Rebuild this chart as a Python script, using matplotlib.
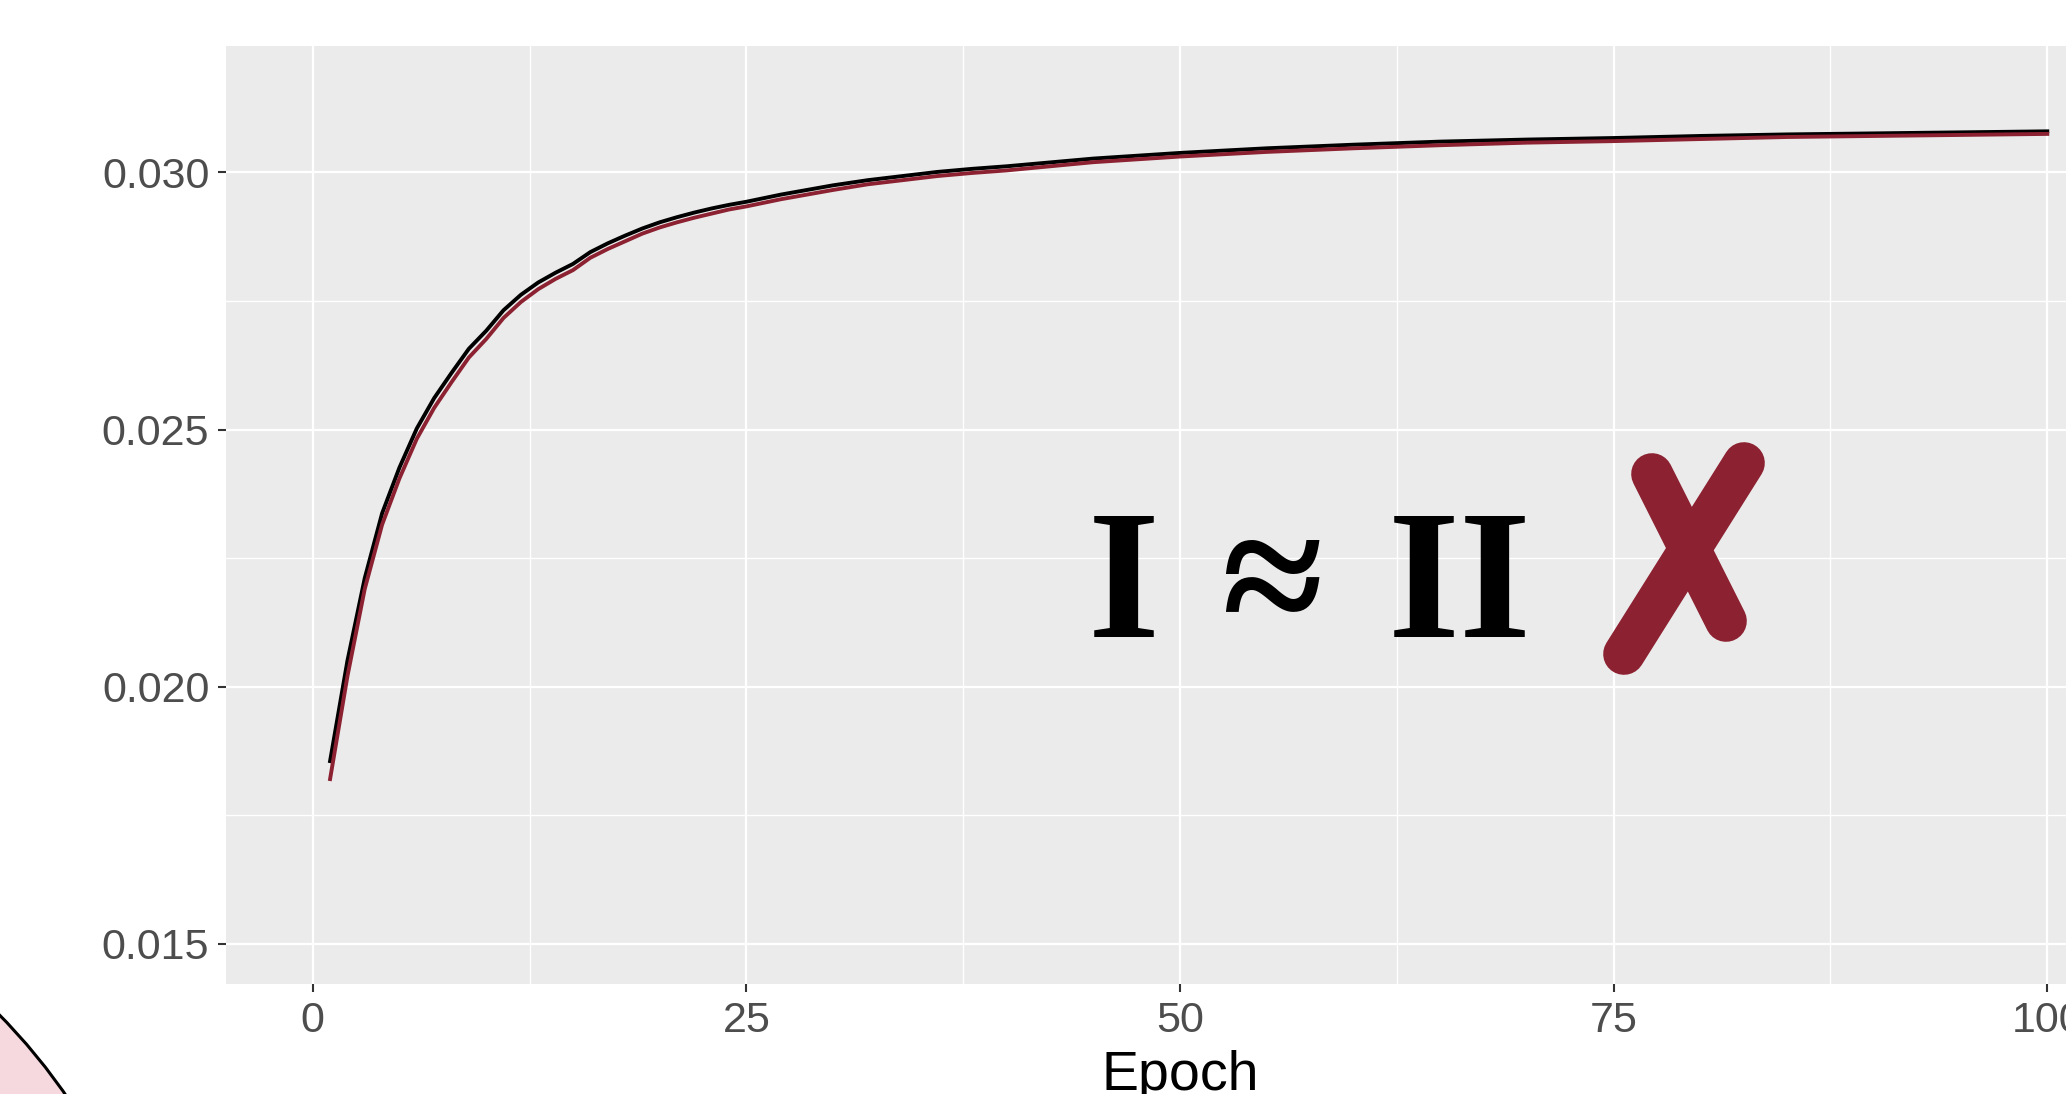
import numpy as np
import matplotlib.pyplot as plt
from matplotlib.patches import Circle
from matplotlib.transforms import IdentityTransform

# values
epoch = [1, 2, 3, 4, 5, 6, 7, 8, 9, 10,
         11, 12, 13, 14, 15, 16, 17, 18, 19, 20,
         21, 22, 23, 24, 25, 26, 27, 28, 29, 30,
         32, 34, 36, 38, 40, 45, 50, 55, 60, 65,
         70, 75, 80, 85, 90, 95, 100]

run_one = [0.01855, 0.02050, 0.02211, 0.02337, 0.02426, 0.02502, 0.02561, 0.02610, 0.02657, 0.02692,
           0.02732, 0.02762, 0.02786, 0.02805, 0.02822, 0.02845, 0.02862, 0.02877, 0.02891, 0.02903,
           0.02913, 0.02922, 0.02930, 0.02937, 0.02943, 0.02950, 0.02957, 0.02963, 0.02969, 0.02975,
           0.02985, 0.02993, 0.03001, 0.03007, 0.03012, 0.03027, 0.03038, 0.03047, 0.03054, 0.03060,
           0.03064, 0.03067, 0.03071, 0.03074, 0.03076, 0.03078, 0.03080]

run_two = [0.01820, 0.02020, 0.02190, 0.02315, 0.02405, 0.02482, 0.02542, 0.02592, 0.02640, 0.02676,
           0.02717, 0.02748, 0.02773, 0.02793, 0.02810, 0.02834, 0.02851, 0.02866, 0.02881, 0.02893,
           0.02903, 0.02912, 0.02920, 0.02928, 0.02934, 0.02941, 0.02948, 0.02954, 0.02960, 0.02966,
           0.02977, 0.02985, 0.02993, 0.02999, 0.03004, 0.03020, 0.03031, 0.03040, 0.03047, 0.03053,
           0.03058, 0.03061, 0.03065, 0.03069, 0.03071, 0.03073, 0.03075]

x_major = [0, 25, 50, 75, 100]
x_minor = [12.5, 37.5, 62.5, 87.5]
y_major = [0.015, 0.020, 0.025, 0.030]
y_minor = [0.0175, 0.0225, 0.0275]
y_labels = ["0.015", "0.020", "0.025", "0.030"]

W, H = 2066, 1094
dark_red = '#8C2131'

def px(x, y):
    # pixel position (from top left) -> figure fraction
    return x / W, 1 - y / H

plt.rcParams['font.family'] = ['Liberation Sans', 'DejaVu Sans']

fig = plt.figure(figsize=(W / 100, H / 100), dpi=100)
fig.patch.set_facecolor('white')

# panel runs past the right edge, like the cropped original
ax = fig.add_axes([226 / W, (H - 984) / H, (2134 - 226) / W, (984 - 46) / H])
ax.set_facecolor('#EBEBEB')

ax.plot(epoch, run_one, color='black', lw=2.8, zorder=3)
ax.plot(epoch, run_two, color=dark_red, lw=2.8, zorder=4)

ax.set_xlim(-5, 105)
ax.set_ylim(0.014214, 0.03246)

ax.set_xticks(x_major)
ax.set_xticks(x_minor, minor=True)
ax.set_yticks(y_major)
ax.set_yticklabels(y_labels)
ax.set_yticks(y_minor, minor=True)

ax.grid(which='major', color='white', lw=1.6)
ax.grid(which='minor', color='white', lw=1.0)
ax.set_axisbelow(True)

for s in ax.spines.values():
    s.set_visible(False)

ax.tick_params(which='major', length=6, width=1.5, color='#333333',
               labelsize=31, labelcolor='#4D4D4D', pad=6)
ax.tick_params(which='minor', length=0)

ax.set_xlabel("Epoch", fontsize=40, color='black', labelpad=7)

# big annotation in the middle of the panel
serif = dict(family='Liberation Serif', fontweight='bold', fontsize=133,
             color='black', va='baseline', ha='center')
fig.text(*px(1123.5, 637), "I", **serif)
fig.text(*px(1272, 637), "\u2248", **serif)
fig.text(*px(1460, 637), "II", **serif)

# the red cross
for (x0, y0), (x1, y1) in [((1652, 474), (1726, 621)), ((1744, 463), (1624, 654))]:
    fig.add_artist(plt.Line2D([x0 / W, x1 / W], [1 - y0 / H, 1 - y1 / H],
                              color=dark_red, lw=30, solid_capstyle='round'))

# pink circle peeking in at bottom left
fig.add_artist(Circle((-428, H - 1436), 600, transform=IdentityTransform(),
                      facecolor='#F6D9DE', edgecolor='black', lw=2.2))

fig.savefig('out.png', dpi=100)
